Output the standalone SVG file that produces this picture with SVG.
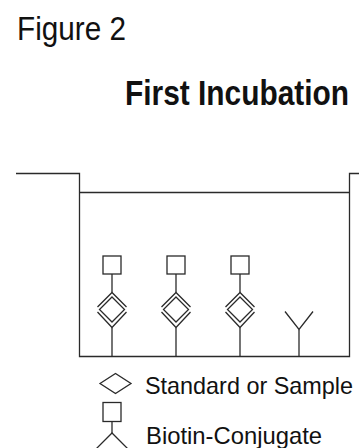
<svg xmlns="http://www.w3.org/2000/svg" width="359" height="448" viewBox="0 0 359 448">
  <style>
    .ln { fill: none; stroke: #2a2a2a; stroke-width: 1.3; stroke-linejoin: miter; }
    .t { font-family: "Liberation Sans", Arial, sans-serif; fill: #111; }
  </style>
  <defs>
    <g id="complex">
      <rect class="ln" x="-9" y="256" width="18" height="18"/>
      <path class="ln" d="M0,274 V292.5"/>
      <path class="ln" d="M-14.5,307 L0,292.5 L14.5,307"/>
      <path class="ln" d="M0,297 L12.5,309.5 L0,322 L-12.5,309.5 Z"/>
      <path class="ln" d="M-14.5,312 L0,327.5 L14.5,312"/>
      <path class="ln" d="M0,327.5 V356.5"/>
    </g>
  </defs>
  <rect width="359" height="448" fill="#fff"/>

  <text class="t" transform="translate(17,39.5) scale(0.9,1)" x="0" y="0" font-size="33">Figure 2</text>
  <text class="t" transform="translate(125,105) scale(0.83,1)" x="0" y="0" font-size="36" font-weight="bold">First Incubation</text>

  <g id="well">
    <path class="ln" d="M16,173.5 H79.5 V356.5 H349.5 V173.5 H359"/>
    <path class="ln" d="M79.5,192.5 H349.5"/>
  </g>

  <g id="complex1"><use href="#complex" x="112"/></g>
  <g id="complex2"><use href="#complex" x="176"/></g>
  <g id="complex3"><use href="#complex" x="240"/></g>

  <g id="capture-antibody">
    <path class="ln" d="M285,311.5 L299,329.5 L313,311.5"/>
    <path class="ln" d="M299,329.5 V356.5"/>
  </g>

  <g id="legend-sample">
    <path class="ln" d="M100,383.5 L115.5,373.5 L131,383.5 L115.5,393.5 Z"/>
    <text class="t" x="145" y="393.5" font-size="24" textLength="208" lengthAdjust="spacingAndGlyphs">Standard or Sample</text>
  </g>

  <g id="legend-biotin">
    <rect class="ln" x="103" y="402.5" width="18" height="19"/>
    <path class="ln" d="M112,421.5 V433"/>
    <path class="ln" d="M96,449 L112,433 L128,449"/>
    <text class="t" x="146" y="443.5" font-size="24" textLength="176" lengthAdjust="spacingAndGlyphs">Biotin-Conjugate</text>
  </g>
</svg>
